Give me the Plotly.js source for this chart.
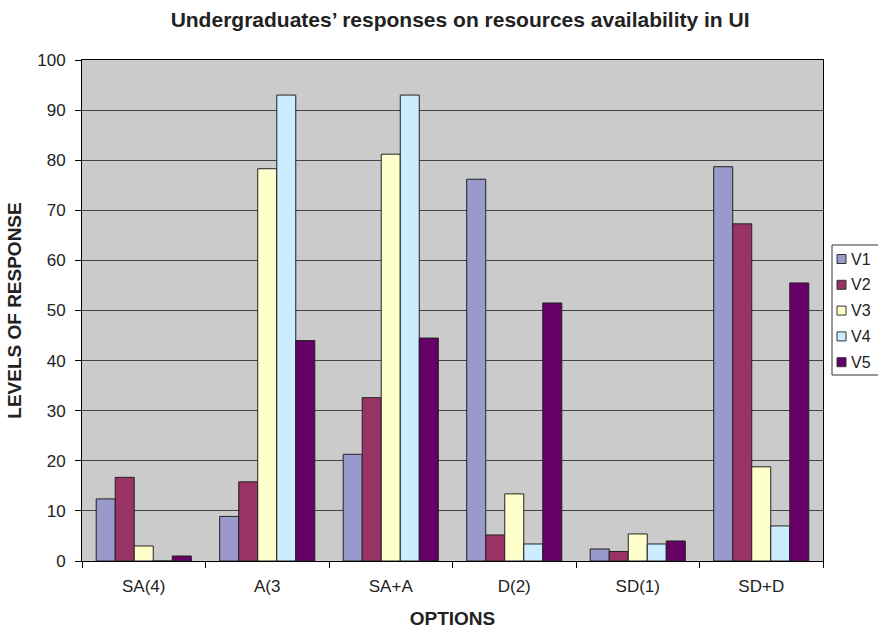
<!DOCTYPE html>
<html><head><meta charset="utf-8">
<script src="https://cdn.plot.ly/plotly-3.0.1.min.js"></script>
<style>body{margin:0;background:#fff}#chart{width:878px;height:629px}</style>
</head><body><div id="chart"></div>
<script>
const categories = ["SA(4)", "A(3", "SA+A", "D(2)", "SD(1)", "SD+D"];
const seriesNames = ["V1", "V2", "V3", "V4", "V5"];
const V1 = [12.4, 8.9, 21.3, 76.2, 2.4, 78.7];
const V2 = [16.7, 15.8, 32.6, 5.2, 1.9, 67.3];
const V3 = [3.0, 78.3, 81.2, 13.4, 5.4, 18.8];
const V4 = [0, 93.0, 93.0, 3.4, 3.4, 7.0];
const V5 = [1.0, 44.0, 44.5, 51.5, 4.0, 55.5];
const colors = ["#9999CC", "#993366", "#FFFFCC", "#CCECFF", "#660066"];
const allSeries = [V1, V2, V3, V4, V5];

const W = 878, H = 629;
const M = {l: 82, r: 55, t: 60, b: 68};
const PW = W - M.l - M.r, PH = H - M.t - M.b;
// pixel -> paper helpers (for legend decoration only)
const px = x => (x - M.l) / PW;
const py = y => (H - M.b - y) / PH;

const traces = allSeries.map((vals, i) => ({
  type: "bar", name: seriesNames[i], x: categories, y: vals,
  marker: {color: colors[i], line: {color: "#222", width: 1}}
}));

// manual legend (box + swatches + labels)
const shapes = [{
  type: "rect", xref: "paper", yref: "paper",
  x0: px(832), x1: px(885), y0: py(375), y1: py(245),
  fillcolor: "#fff", line: {color: "#333", width: 1}, layer: "above"
}];
const annotations = [];
seriesNames.forEach((n, i) => {
  const cy = 259 + i * 25.8;
  shapes.push({
    type: "rect", xref: "paper", yref: "paper",
    x0: px(837), x1: px(846), y0: py(cy + 4.5), y1: py(cy - 4.5),
    fillcolor: colors[i], line: {color: "#333", width: 1}, layer: "above"
  });
  annotations.push({
    xref: "paper", yref: "paper", x: px(849), y: py(cy),
    xanchor: "left", yanchor: "middle", showarrow: false,
    text: n, font: {size: 16, color: "#222"}
  });
});

const layout = {
  width: W, height: H,
  margin: M,
  paper_bgcolor: "#fff", plot_bgcolor: "#CBCBCB",
  font: {family: "Liberation Sans, Arial, sans-serif", size: 17, color: "#222"},
  title: {text: "<b>Undergraduates’ responses on resources availability in UI</b>", font: {size: 21}, x: 0.524, xanchor: "center", y: 0.968, yanchor: "middle"},
  bargap: 0.23, bargroupgap: 0,
  xaxis: {
    title: {text: "<b>OPTIONS</b>", font: {size: 19}, standoff: 16},
    tickson: "boundaries", ticks: "outside", ticklen: 6, tickcolor: "#000",
    showline: true, linecolor: "#000", mirror: true, showgrid: false,
    tickfont: {size: 17}, ticklabelstandoff: 10
  },
  yaxis: {
    title: {text: "<b>LEVELS OF RESPONSE</b>", font: {size: 19}, standoff: 10},
    range: [0, 100], dtick: 10, ticks: "outside", ticklen: 6, tickcolor: "#000",
    showline: true, linecolor: "#000", mirror: true,
    gridcolor: "#444", gridwidth: 1, zeroline: false,
    tickfont: {size: 17}, ticklabelstandoff: 6
  },
  showlegend: false,
  shapes: shapes,
  annotations: annotations
};
Plotly.newPlot("chart", traces, layout, {staticPlot: true});
</script></body></html>
